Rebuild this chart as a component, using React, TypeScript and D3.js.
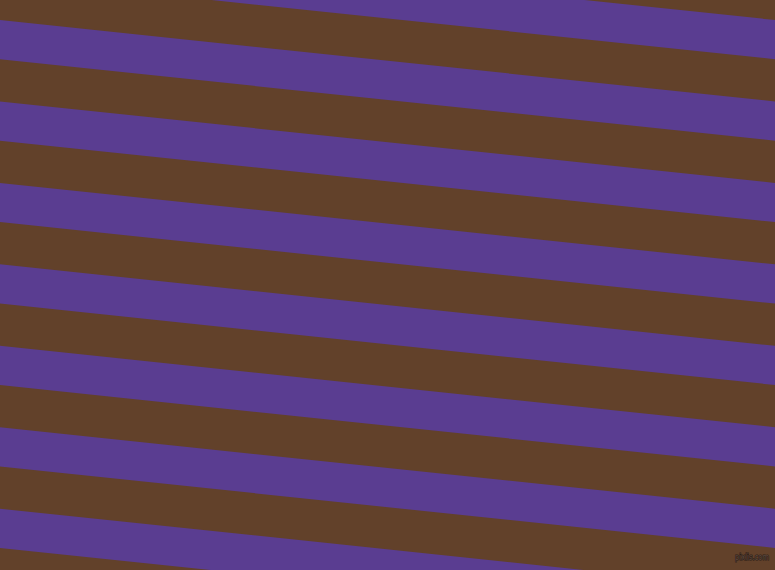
import * as d3 from "d3";
import React from "react";

// stripe pattern
const bandIndex = d3.range(-3, 9);
const bandNames = ["purple", "brown"];
const bandColors = ["#5a3d91", "#62412a"];
const bandThickness = [39, 42];
const firstPurpleTop = 20; // at the left edge
const tiltDeg = 6;
const watermark = "pixlis.com";

export default function App() {
  const width = 775;
  const height = 570;
  const svgRef = React.useRef<SVGSVGElement | null>(null);

  React.useEffect(() => {
    const svg = d3.select(svgRef.current);
    svg.selectAll("*").remove();

    const period = d3.sum(bandThickness);
    const rad = (tiltDeg * Math.PI) / 180;
    const v0 = firstPurpleTop * Math.cos(rad);

    const v = d3
      .scaleLinear()
      .domain([0, 1])
      .range([v0, v0 + period]);

    const color = d3.scaleOrdinal<string, string>().domain(bandNames).range(bandColors);
    const thick = d3.scaleOrdinal<string, number>().domain(bandNames).range(bandThickness);

    svg
      .append("rect")
      .attr("width", width)
      .attr("height", height)
      .attr("fill", color("brown"));

    const g = svg.append("g").attr("transform", `rotate(${tiltDeg})`);

    g.selectAll("rect.band")
      .data(bandIndex)
      .join("rect")
      .attr("class", "band")
      .attr("x", -200)
      .attr("width", width + 400)
      .attr("y", (d) => v(d))
      .attr("height", thick("purple"))
      .attr("fill", color("purple"));

    // small outlined watermark, bottom right
    svg
      .append("text")
      .attr("x", 769)
      .attr("y", 560)
      .attr("text-anchor", "end")
      .attr("font-family", "DejaVu Sans, sans-serif")
      .attr("font-size", 9)
      .attr("textLength", 34)
      .attr("lengthAdjust", "spacingAndGlyphs")
      .attr("fill", "#5e4a40")
      .attr("stroke", "#2a1d17")
      .attr("stroke-width", 1.2)
      .attr("paint-order", "stroke")
      .text(watermark);
  }, []);

  return (
    <div style={{ position: "fixed", left: 0, top: 0 }}>
      <svg
        ref={svgRef}
        width={width}
        height={height}
        viewBox={`0 0 ${width} ${height}`}
        style={{ display: "block" }}
      ></svg>
    </div>
  );
}
